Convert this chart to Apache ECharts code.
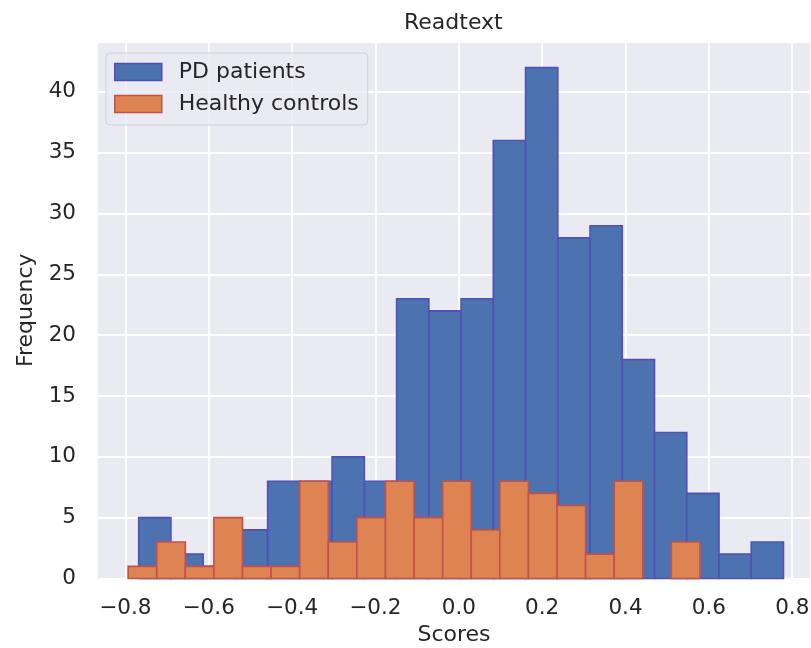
<!DOCTYPE html>
<html>
<head>
<meta charset="utf-8">
<script src="https://cdn.jsdelivr.net/npm/echarts@6/dist/echarts.min.js"></script>
<style>
  html, body { margin: 0; padding: 0; background: #fff; }
  #main { width: 811px; height: 648px; }
</style>
</head>
<body>
<div id="main"></div>
<script>
// histogram counts
var pdCounts = [5, 2, 1, 4, 8, 8, 10, 8, 23, 22, 23, 36, 42, 28, 29, 18, 12, 7, 2, 3];
var hcCounts = [1, 3, 1, 5, 1, 1, 8, 3, 5, 8, 5, 8, 4, 8, 7, 6, 2, 8, 0, 3];
// first bin edge and bin width of each histogram
var pdStart = -0.768, pdWidth = 0.07735;
var hcStart = -0.7933, hcWidth = 0.0686;
var seriesNames = ['PD patients', 'Healthy controls'];

function toBins(counts, start, width) {
    return counts.map(function (c, i) {
        return [start + i * width, start + (i + 1) * width, c];
    });
}

var FONT = 'DejaVu Sans';
var TXT = '#262626';
var blue = '#4c72b0', blueEdge = '#5050b8';
var orange = '#dd8452', orangeEdge = '#c4504a';

function barRender(fill, edge) {
    return function (params, api) {
        if (!api.value(2)) return null; // empty bin, nothing drawn
        var p0 = api.coord([api.value(0), api.value(2)]);
        var p1 = api.coord([api.value(1), 0]);
        return {
            type: 'rect',
            shape: { x: p0[0], y: p0[1], width: p1[0] - p0[0], height: p1[1] - p0[1] },
            style: { fill: fill, stroke: edge, lineWidth: 1.6 }
        };
    };
}

var myChart = echarts.init(document.getElementById('main'));
var option = {
    backgroundColor: '#fff',
    animation: false,
    title: {
        text: 'Readtext',
        left: 404,
        top: 12,
        padding: 0,
        textStyle: { fontFamily: FONT, fontSize: 22, fontWeight: 'normal', color: TXT }
    },
    legend: {
        orient: 'vertical',
        left: 106,
        top: 53,
        padding: [8, 9, 10, 8],
        itemWidth: 47,
        itemHeight: 17,
        itemGap: 10,
        backgroundColor: 'rgba(234,234,242,0.8)',
        borderColor: '#cfcfd6',
        borderWidth: 1,
        borderRadius: 4,
        textStyle: { fontFamily: FONT, fontSize: 22, color: TXT, padding: [0, 0, 0, 12] },
        data: [
            { name: seriesNames[0], icon: 'rect', itemStyle: { color: blue, borderColor: blueEdge, borderWidth: 1.5 } },
            { name: seriesNames[1], icon: 'rect', itemStyle: { color: orange, borderColor: orangeEdge, borderWidth: 1.5 } }
        ]
    },
    grid: {
        left: 97,
        right: 0,
        top: 42,
        bottom: 69.5,
        outerBoundsMode: 'none',
        show: true,
        backgroundColor: '#eaeaf2',
        borderWidth: 0
    },
    xAxis: {
        type: 'value',
        min: -0.868,
        max: 0.845,
        splitNumber: 8,
        minInterval: 0.2,
        maxInterval: 0.2,
        name: 'Scores',
        nameLocation: 'middle',
        nameGap: 46,
        nameTextStyle: { fontFamily: FONT, fontSize: 22, color: TXT },
        axisLine: { show: false },
        axisTick: { show: false },
        axisLabel: {
            margin: 19,
            fontFamily: FONT, fontSize: 21.5, color: TXT,
            showMinLabel: false, showMaxLabel: false,
            formatter: function (v) { return v.toFixed(1).replace('-', '\u2212'); }
        },
        splitLine: { show: true, lineStyle: { color: '#ffffff', width: 1.8 } }
    },
    yAxis: {
        type: 'value',
        min: 0,
        max: 44.1,
        interval: 5,
        name: 'Frequency',
        nameLocation: 'middle',
        nameGap: 59,
        nameTextStyle: { fontFamily: FONT, fontSize: 22, color: TXT },
        axisLine: { show: false },
        axisTick: { show: false },
        axisLabel: {
            margin: 21,
            fontFamily: FONT, fontSize: 21.5, color: TXT,
            showMaxLabel: false
        },
        splitLine: { show: true, lineStyle: { color: '#ffffff', width: 1.8 } }
    },
    series: [
        {
            name: seriesNames[0],
            type: 'custom',
            itemStyle: { color: blue, borderColor: blueEdge },
            renderItem: barRender(blue, blueEdge),
            encode: { x: [0, 1], y: 2 },
            data: toBins(pdCounts, pdStart, pdWidth)
        },
        {
            name: seriesNames[1],
            type: 'custom',
            itemStyle: { color: orange, borderColor: orangeEdge },
            renderItem: barRender(orange, orangeEdge),
            encode: { x: [0, 1], y: 2 },
            data: toBins(hcCounts, hcStart, hcWidth)
        }
    ]
};
myChart.setOption(option);
</script>
</body>
</html>
